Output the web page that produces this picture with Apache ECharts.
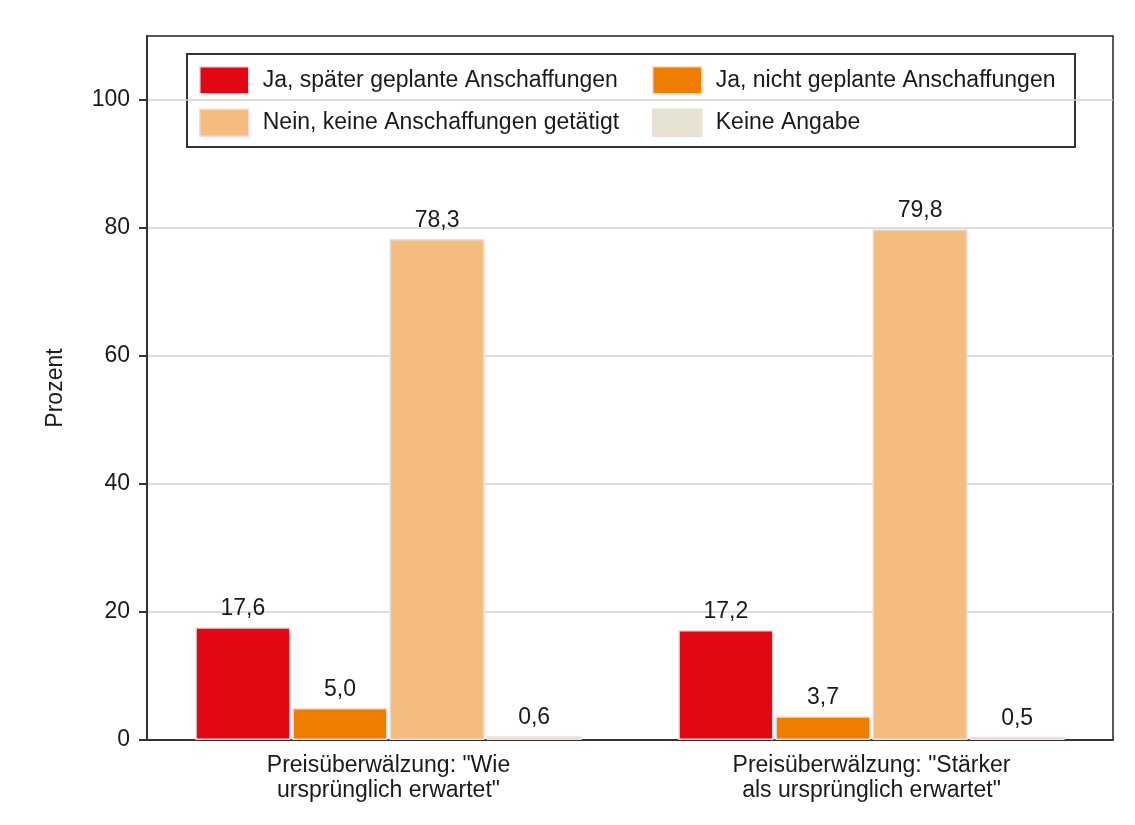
<!DOCTYPE html>
<html style="height: 100%">
<head>
    <meta charset="UTF-8">
    <title>Anschaffungen</title>
</head>
<body style="height: 100%; margin: 0; background: #fff">
<div id="container" style="width: 1135px; height: 825px"></div>
<script src="https://cdn.jsdelivr.net/npm/echarts@6/dist/echarts.min.js"></script>
<script>
    // Daten
    var categories = ['Preisüberwälzung: "Wie\nursprünglich erwartet"', 'Preisüberwälzung: "Stärker\nals ursprünglich erwartet"'];
    var seriesNames = ['Ja, später geplante Anschaffungen', 'Ja, nicht geplante Anschaffungen', 'Nein, keine Anschaffungen getätigt', 'Keine Angabe'];
    var jaSpaeter = [17.6, 17.2];
    var jaNicht = [5.0, 3.7];
    var nein = [78.3, 79.8];
    var keineAngabe = [0.6, 0.5];
    var yTicks = [0, 20, 40, 60, 80, 100];

    var colors = ['#E30613', '#EE7D00', '#F5BC80', '#E7E3D2'];
    var values = [jaSpaeter, jaNicht, nein, keineAngabe];
    var font = 'Liberation Sans, Arial, sans-serif';

    var series = [];
    for (var i = 0; i < values.length; i++) {
        series.push({
            name: seriesNames[i],
            type: 'bar',
            data: values[i],
            barGap: '2%',
            barCategoryGap: '20%',
            itemStyle: {color: colors[i], borderColor: '#efdcdc', borderWidth: 1.5},
            label: {
                show: true,
                position: 'top',
                distance: 7,
                fontFamily: font,
                fontSize: 23,
                color: '#1a1a1a',
                formatter: function (p) { return p.value.toFixed(1).replace('.', ','); }
            }
        });
    }

    var legendBase = {
        orient: 'vertical',
        padding: 0,
        itemWidth: 49,
        itemHeight: 27,
        itemGap: 14,
        icon: 'rect',
        itemStyle: {borderColor: '#efdcdc', borderWidth: 1.5},
        textStyle: {fontFamily: font, fontSize: 23, color: '#1a1a1a', padding: [0, 0, 0, 9]}
    };

    var dom = document.getElementById('container');
    var myChart = echarts.init(dom);
    var option = {
        animation: false,
        color: colors,
        grid: {
            left: 147, right: 22, top: 36, bottom: 85,
            show: true, borderColor: '#222', borderWidth: 1.5
        },
        legend: [
            Object.assign({}, legendBase, {left: 199, top: 66, data: [seriesNames[0], seriesNames[2]]}),
            Object.assign({}, legendBase, {left: 652, top: 66, data: [seriesNames[1], seriesNames[3]]})
        ],
        graphic: [{
            type: 'rect',
            shape: {x: 187, y: 54, width: 888, height: 93},
            style: {fill: '#fff', stroke: '#333', lineWidth: 2},
            z: -1,
            zlevel: 0
        }],
        xAxis: {
            type: 'category',
            data: categories,
            axisLine: {lineStyle: {color: '#333', width: 2}},
            axisTick: {show: false},
            axisLabel: {fontFamily: font, fontSize: 23, color: '#1a1a1a', lineHeight: 25, margin: 13}
        },
        yAxis: {
            type: 'value',
            min: 0,
            max: 110,
            interval: 20,
            name: 'Prozent',
            nameLocation: 'middle',
            nameGap: 80,
            nameTextStyle: {fontFamily: font, fontSize: 23, color: '#1a1a1a'},
            axisLine: {show: true, lineStyle: {color: '#333', width: 2}},
            axisTick: {show: true, length: 8, customValues: yTicks, lineStyle: {color: '#333', width: 2}},
            axisLabel: {fontFamily: font, fontSize: 23, color: '#1a1a1a', margin: 17, customValues: yTicks},
            splitLine: {lineStyle: {color: '#d2d2d2', width: 1.5}}
        },
        series: series
    };
    myChart.setOption(option);
</script>
</body>
</html>
